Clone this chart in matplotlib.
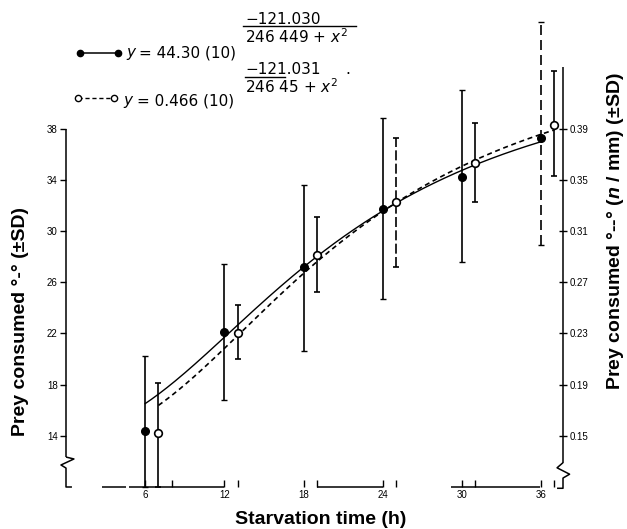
import numpy as np
import matplotlib
matplotlib.use("Agg")
import matplotlib.pyplot as plt
from matplotlib.lines import Line2D

plt.rcParams['font.family'] = ['Liberation Sans', 'DejaVu Sans']
plt.rcParams['mathtext.fontset'] = 'custom'
plt.rcParams['mathtext.rm'] = 'DejaVu Sans'
plt.rcParams['mathtext.it'] = 'DejaVu Sans:italic'
plt.rcParams['mathtext.bf'] = 'Liberation Sans:bold'
plt.rcParams['mathtext.bfit'] = 'Liberation Sans:bold:italic'

# starvation time (h)
hours = np.array([6, 12, 18, 24, 30, 36])
open_offset = 1  # open symbols are drawn 1 h to the right

# prey consumed (number), filled symbols, left axis
filled_mean = [14.4, 22.1, 27.2, 31.7, 34.2, 37.3]
filled_hi = [20.2, 27.4, 33.6, 38.8, 41.0, 46.3]
filled_lo = [10.0, 16.8, 20.6, 24.7, 27.6, 28.9]

# prey consumed (n / mm), open symbols, right axis
open_mean = [0.152, 0.230, 0.291, 0.333, 0.363, 0.393]
open_hi = [0.191, 0.252, 0.321, 0.383, 0.394, 0.435]
open_lo = [0.110, 0.210, 0.262, 0.282, 0.333, 0.353]

# fitted curves y = a * 10 ** (-b / (c + x^2)) from the key
fit_filled = (44.30, 121.030, 246.449)
fit_open = (0.466, 121.031, 246.45)

left_ticks = [14, 18, 22, 26, 30, 34, 38]
right_ticks = [0.15, 0.19, 0.23, 0.27, 0.31, 0.35, 0.39]
x_major = [6, 12, 18, 24, 30, 36]
x_minor = [8, 13, 19, 25, 31, 37]

W, H = 627, 529


def fx(px):
    return px / W


def fy(py):
    return 1 - py / H


def model(x, params):
    a, b, c = params
    return a * 10 ** (-b / (c + x ** 2))


fig = plt.figure(figsize=(W / 100, H / 100), dpi=100)
ax = fig.add_axes([fx(66), 42 / H, 497 / W, 420 / H])
ax.set_xlim(0, 37.65)
ax.set_ylim(10, 42.81)
ax2 = ax.twinx()
ax2.set_ylim(0.11, 0.4381)
for a in (ax, ax2):
    for s in a.spines.values():
        s.set_visible(False)
    a.patch.set_visible(False)

k = dict(color='black', lw=1.1, clip_on=False, solid_capstyle='butt')

# left axis with break
ax.plot([0, 0], [12.34, 38], **k)
ax.plot([0, 0.6, -0.38, 0, 0, 0.45], [12.34, 12.19, 11.72, 11.48, 10.0, 10.0], **k)
# right axis with break
xr = 37.65
ax.plot([xr, xr], [42.81, 11.9], **k)
ax.plot([xr, xr - 0.45, xr + 0.5, xr, xr, xr - 0.45], [11.9, 11.5, 11.0, 10.7, 9.9, 9.9], **k)
# x axis (broken as in the print)
for x0, x1 in [(2.73, 4.55), (4.77, 11.97), (18.98, 24.0), (29.2, 35.9)]:
    ax.plot([x0, x1], [10, 10], **k)

ax.set_xticks(x_major)
ax.set_xticks(x_minor, minor=True)
ax.tick_params(axis='x', which='both', direction='in', length=5, width=1, pad=2, labelsize=7)
ax.set_yticks(left_ticks)
ax.tick_params(axis='y', direction='out', length=4, width=1, pad=2, labelsize=7)
ax2.set_yticks(right_ticks)
ax2.set_yticklabels([f'{v:.2f}' for v in right_ticks])
ax2.tick_params(axis='y', direction='inout', length=6, width=1, pad=2, labelsize=7)

# fitted curves
xs = np.linspace(hours[0], hours[-1], 200)
ax.plot(xs, model(xs, fit_filled), color='black', lw=1.0)
ax2.plot(xs + open_offset, model(xs, fit_open), color='black', lw=1.2, dashes=(3, 2.2))

# error bars
eb = ax.errorbar(hours, filled_mean,
                 yerr=[np.subtract(filled_mean, filled_lo), np.subtract(filled_hi, filled_mean)],
                 fmt='o', color='black', ms=5.5, elinewidth=1.2, capsize=2.5, capthick=1.0)
for art in eb.lines[1] + eb.lines[2]:
    art.set_clip_on(False)
eb[2][0].set_linestyles(['-', '-', '-', '-', '-', (0, (6, 3))])
eo = ax2.errorbar(hours + open_offset, open_mean,
                  yerr=[np.subtract(open_mean, open_lo), np.subtract(open_hi, open_mean)],
                  fmt='o', color='black', mfc='white', mec='black', mew=1.2, ms=5.5,
                  elinewidth=1.2, capsize=2.5, capthick=1.0)
for art in eo.lines[1] + eo.lines[2]:
    art.set_clip_on(False)
eo[2][0].set_linestyles(['-', '-', '-', (0, (6, 2)), '-', '-'])

# axis titles
fig.text(fx(21), fy(322), 'Prey consumed °-° (±SD)', rotation=90, ha='center', va='center',
         fontsize=14, fontweight='bold')
fig.text(fx(616), fy(231), r'Prey consumed °--° ($\mathbfit{n}$ / mm) (±SD)', rotation=90,
         ha='center', va='center', fontsize=14, fontweight='bold')
fig.text(fx(321), fy(519), 'Starvation time (h)', ha='center', va='center',
         fontsize=14, fontweight='bold')

# key
fig.add_artist(Line2D([fx(80), fx(118)], [fy(53), fy(53)], color='black', lw=1.1,
                      marker='o', ms=4.5, transform=fig.transFigure))
fig.add_artist(Line2D([fx(78), fx(114)], [fy(98), fy(98)], color='black', lw=1.0,
                      dashes=(3, 2), marker='o', ms=4.5, mfc='white', transform=fig.transFigure))
tk = dict(fontsize=11, va='center', ha='left', family='DejaVu Sans')
fig.text(fx(126), fy(52), 'y', style='italic', **tk)
fig.text(fx(139), fy(53), '= 44.30 (10)', **tk)
fig.text(fx(245), fy(19), '−121.030', **tk)
fig.add_artist(Line2D([fx(243), fx(356)], [fy(26), fy(26)], color='black', lw=1.0,
                      transform=fig.transFigure))
fig.text(fx(245), fy(37), r'246 449 + $x^2$', **tk)

fig.text(fx(123), fy(100), 'y', style='italic', **tk)
fig.text(fx(137), fy(101), '= 0.466 (10)', **tk)
fig.text(fx(245), fy(70), '−121.031', **tk)
fig.add_artist(Line2D([fx(245), fx(285)], [fy(77), fy(77)], color='black', lw=1.0,
                      transform=fig.transFigure))
fig.text(fx(245), fy(87), r'246 45 + $x^2$', **tk)
fig.text(fx(345), fy(70), '.', **tk)

fig.savefig('out.png', dpi=100)
